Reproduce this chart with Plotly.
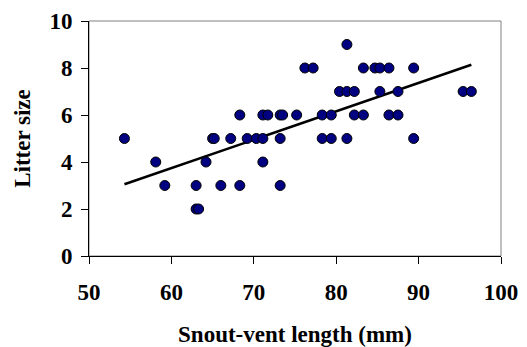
import numpy as np
import plotly.graph_objects as go

snout_vent_mm = [54.3, 58.1, 59.2, 63.0, 63.0, 63.3, 64.2, 65.0, 65.2, 66.0, 67.2, 68.3, 68.3,
                 69.2, 70.3, 71.1, 71.7, 71.1, 71.1, 73.2, 73.5, 73.2, 73.2, 75.2, 76.2, 77.2,
                 78.3, 79.4, 78.3, 79.4, 81.3, 80.4, 81.3, 82.2, 81.3, 82.2, 83.3, 83.3, 84.7,
                 85.3, 86.4, 85.3, 86.4, 87.5, 87.5, 89.4, 89.4, 95.4, 96.4]
litter_size = [5, 4, 3, 3, 2, 2, 4, 5, 5, 3, 5, 6, 3,
               5, 5, 6, 6, 5, 4, 6, 6, 5, 3, 6, 8, 8,
               6, 6, 5, 5, 9, 7, 7, 7, 5, 6, 6, 8, 8,
               8, 8, 7, 6, 6, 7, 8, 5, 7, 7]

x_ticks = [50, 60, 70, 80, 90, 100]
y_ticks = [0, 2, 4, 6, 8, 10]

xs = np.array(snout_vent_mm)
ys = np.array(litter_size)
slope, intercept = np.polyfit(xs, ys, 1)
line_x = [xs.min(), xs.max()]
line_y = [slope * v + intercept for v in line_x]

font_family = "Liberation Serif, Times New Roman, serif"

fig = go.Figure()
fig.add_trace(go.Scatter(
    x=line_x, y=line_y, mode="lines",
    line=dict(color="black", width=2.5), hoverinfo="skip", showlegend=False))
fig.add_trace(go.Scatter(
    x=snout_vent_mm, y=litter_size, mode="markers",
    marker=dict(size=10, color="#000080", line=dict(color="black", width=1)),
    showlegend=False, cliponaxis=False))

fig.add_shape(type="rect", xref="paper", yref="paper", x0=0, y0=0, x1=1, y1=1,
              line=dict(color="#808080", width=1), layer="below")

# page body has an 8px default margin, so the figure is made 8px smaller
fig.update_layout(
    width=519, height=339,
    margin=dict(l=81, r=26, t=13, b=91),
    paper_bgcolor="white", plot_bgcolor="white",
    font=dict(family=font_family, color="black"),
    xaxis=dict(
        range=[50, 100], tickvals=x_ticks, ticktext=[str(v) for v in x_ticks],
        showgrid=False, zeroline=False, showline=True, linecolor="black", linewidth=1,
        ticks="outside", ticklen=7, tickcolor="black", tickwidth=1, automargin=False,
        ticklabelstandoff=8,
        tickfont=dict(family=font_family, size=23, weight="bold", color="black"),
        title=dict(text="Snout-vent length (mm)", standoff=26,
                   font=dict(family=font_family, size=23, weight="bold", color="black")),
    ),
    yaxis=dict(
        range=[0, 10], tickvals=y_ticks, ticktext=[str(v) for v in y_ticks],
        showgrid=False, zeroline=False, showline=True, linecolor="black", linewidth=1,
        ticks="outside", ticklen=7, tickcolor="black", tickwidth=1, automargin=False,
        ticklabelstandoff=4,
        tickfont=dict(family=font_family, size=23, weight="bold", color="black"),
        title=dict(text="Litter size", standoff=12,
                   font=dict(family=font_family, size=23, weight="bold", color="black")),
    ),
)

fig.write_html("out.html")
